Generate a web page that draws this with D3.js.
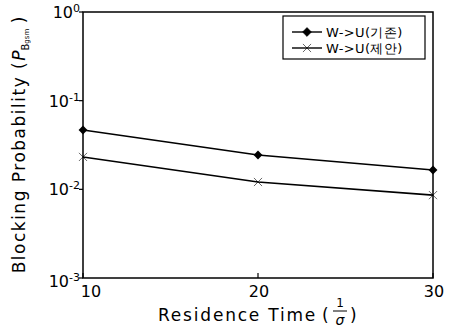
<!DOCTYPE html>
<html>
<head>
<meta charset="utf-8">
<script src="https://cdn.jsdelivr.net/npm/d3@7"></script>
<style>
  body { margin: 0; background: #fff; }
  text { font-family: "DejaVu Sans", sans-serif; fill: #000; }
</style>
</head>
<body>
<svg id="chart" width="455" height="332"></svg>
<script>
const residence = [10, 20, 30]
const existing = [0.0467, 0.0244, 0.0165]
const proposed = [0.0232, 0.0121, 0.0086]
const seriesNames = ["W->U(기존)", "W->U(제안)"]
const yTicks = [1, 0.1, 0.01, 0.001]
const yExp = ["0", "-1", "-2", "-3"]

const svg = d3.select("#chart")
const m = { left: 83, right: 433, top: 12, bottom: 278 }

const x = d3.scaleLinear().domain([10, 30]).range([m.left, m.right])
const y = d3.scaleLog().domain([0.001, 1]).range([m.bottom, m.top])

// frame
svg.append("rect")
    .attr("x", m.left).attr("y", m.top)
    .attr("width", m.right - m.left).attr("height", m.bottom - m.top)
    .attr("fill", "none").attr("stroke", "#000").attr("stroke-width", 1.5)

// y ticks
const yg = svg.append("g")
yTicks.forEach((t, i) => {
    yg.append("line")
        .attr("x1", m.left - 4).attr("x2", m.left)
        .attr("y1", y(t)).attr("y2", y(t))
        .attr("stroke", "#000").attr("stroke-width", 1.2)
    const lab = yg.append("text")
        .attr("x", m.left - 3).attr("y", y(t) + 6 + (i == 3 ? 3 : 0))
        .attr("text-anchor", "end").attr("font-size", 16)
    lab.append("tspan").text("10")
    lab.append("tspan").attr("dy", -6).attr("font-size", 11).text(yExp[i])
})

// x ticks
const xg = svg.append("g")
residence.forEach((t, i) => {
    xg.append("line")
        .attr("x1", x(t)).attr("x2", x(t))
        .attr("y1", m.bottom).attr("y2", m.bottom - 5)
        .attr("stroke", "#000").attr("stroke-width", 1.2)
    xg.append("text")
        .attr("x", x(t) + (i == 0 ? 8 : 1)).attr("y", m.bottom + 19)
        .attr("text-anchor", "middle").attr("font-size", 16)
        .text(t)
})

// lines
const line = d3.line().x(d => x(d[0])).y(d => y(d[1]))
const s1 = residence.map((r, i) => [r, existing[i]])
const s2 = residence.map((r, i) => [r, proposed[i]])

svg.append("path").datum(s1).attr("d", line)
    .attr("fill", "none").attr("stroke", "#000").attr("stroke-width", 1.6)
svg.append("path").datum(s2).attr("d", line)
    .attr("fill", "none").attr("stroke", "#000").attr("stroke-width", 1.6)

const diamond = d3.symbol().type(d3.symbolDiamond2).size(50)
const cross = d3.symbol().type(d3.symbolTimes).size(45)

svg.selectAll(".m1").data(s1).join("path")
    .attr("class", "m1")
    .attr("transform", d => `translate(${x(d[0])},${y(d[1])})`)
    .attr("d", diamond).attr("fill", "#000")
svg.selectAll(".m2").data(s2).join("path")
    .attr("class", "m2")
    .attr("transform", d => `translate(${x(d[0])},${y(d[1])})`)
    .attr("d", cross).attr("fill", "#000").attr("stroke", "#000").attr("stroke-width", 0.6)

// legend
const lg = svg.append("g")
lg.append("rect").attr("x", 283).attr("y", 16).attr("width", 142).attr("height", 43)
    .attr("fill", "#fff").attr("stroke", "#000").attr("stroke-width", 1.2)
const syms = [diamond, cross]
seriesNames.forEach((name, i) => {
    const ly = 32 + i * 16
    lg.append("line").attr("x1", 292).attr("x2", 322).attr("y1", ly).attr("y2", ly)
        .attr("stroke", "#000").attr("stroke-width", 1.4)
    lg.append("path").attr("transform", `translate(307,${ly})`)
        .attr("d", syms[i]).attr("fill", "#000").attr("stroke", "#000").attr("stroke-width", 0.6)
    lg.append("text").attr("x", 326).attr("y", ly + 5)
        .attr("font-size", 13).attr("font-family", "'Noto Sans CJK KR', 'DejaVu Sans', sans-serif")
        .attr("letter-spacing", 0.4)
        .text(name)
})

// x label
const xl = svg.append("g")
xl.append("text").attr("x", 158).attr("y", 321).attr("font-size", 17)
    .attr("letter-spacing", 1.8).text("Residence Time")
xl.append("text").attr("x", 322).attr("y", 321).attr("font-size", 17).text("(")
xl.append("text").attr("x", 340).attr("y", 307).attr("font-size", 12).attr("text-anchor", "middle").text("1")
xl.append("line").attr("x1", 333).attr("x2", 347).attr("y1", 311).attr("y2", 311)
    .attr("stroke", "#000").attr("stroke-width", 1)
xl.append("text").attr("x", 340).attr("y", 325).attr("font-size", 14).attr("text-anchor", "middle")
    .attr("font-style", "italic").text("σ")
xl.append("text").attr("x", 350).attr("y", 321).attr("font-size", 17).text(")")

// y label
const yl = svg.append("text")
    .attr("transform", "translate(25,145) rotate(-90)")
    .attr("text-anchor", "middle").attr("font-size", 17)
yl.append("tspan").attr("letter-spacing", 1.5).text("Blocking Probability (")
yl.append("tspan").attr("font-style", "italic").text("P")
yl.append("tspan").attr("font-size", 10).attr("dy", 4).text("B")
yl.append("tspan").attr("font-size", 7).text("gsm")
yl.append("tspan").attr("dy", -4).text(" )")
</script>
</body>
</html>
